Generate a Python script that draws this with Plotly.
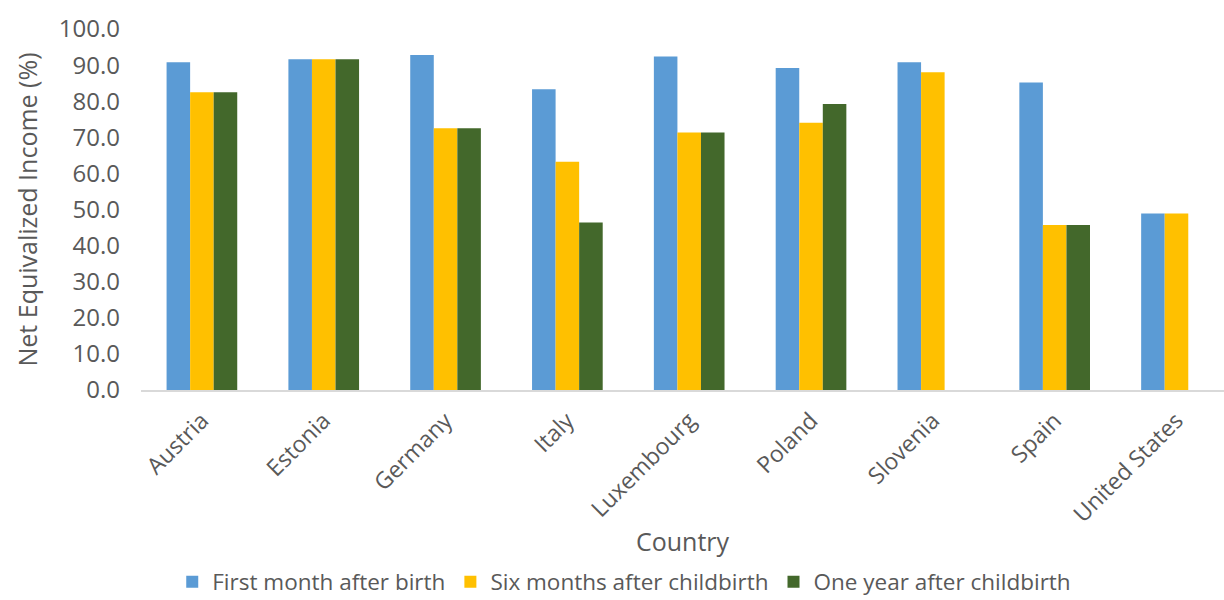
import plotly.graph_objects as go

countries = ["Austria", "Estonia", "Germany", "Italy", "Luxembourg",
             "Poland", "Slovenia", "Spain", "United States"]
first_month = [90.8, 91.6, 92.8, 83.3, 92.4, 89.2, 90.8, 85.2, 48.9]
six_months = [82.5, 91.6, 72.5, 63.2, 71.3, 74.0, 88.0, 45.7, 48.9]
one_year = [82.5, 91.6, 72.5, 46.4, 71.3, 79.2, None, 45.7, None]

series = [
    ("First month after birth", first_month, "#5B9BD5"),
    ("Six months after childbirth", six_months, "#FFC000"),
    ("One year after childbirth", one_year, "#43682B"),
]

font_family = "Open Sans, Liberation Sans, sans-serif"
tick_color = "#595959"

fig = go.Figure()
for name, vals, color in series:
    fig.add_trace(go.Bar(
        name=name, x=countries, y=vals,
        marker=dict(color=color, line=dict(width=0)),
    ))

fig.update_layout(
    width=1224, height=600,
    barmode="group", bargap=0.42, bargroupgap=0,
    plot_bgcolor="white", paper_bgcolor="white",
    margin=dict(l=141, r=0, t=29, b=210),
    font=dict(family=font_family, color=tick_color),
    legend=dict(
        orientation="h", x=0.51, xanchor="center",
        xref="container", yref="container", y=0.03, yanchor="middle",
        font=dict(size=22.5, color=tick_color),
        itemsizing="constant", traceorder="normal",
    ),
    xaxis=dict(
        range=[-0.5, 8.39],
        tickangle=-45, tickfont=dict(size=23, color=tick_color),
        ticklabelstandoff=6,
        showline=True, linecolor="#D9D9D9", linewidth=2,
        ticks="", showgrid=False,
        title=dict(text="Country", font=dict(size=25, color=tick_color), standoff=1),
    ),
    yaxis=dict(
        range=[0, 100], dtick=10, tickformat=".1f",
        tickfont=dict(size=24, color=tick_color),
        ticklabelstandoff=20,
        showgrid=False, zeroline=False, showline=False, ticks="",
        title=dict(text="Net Equivalized Income (%)",
                   font=dict(size=25, color=tick_color), standoff=14),
    ),
)

fig.write_html("out.html")
